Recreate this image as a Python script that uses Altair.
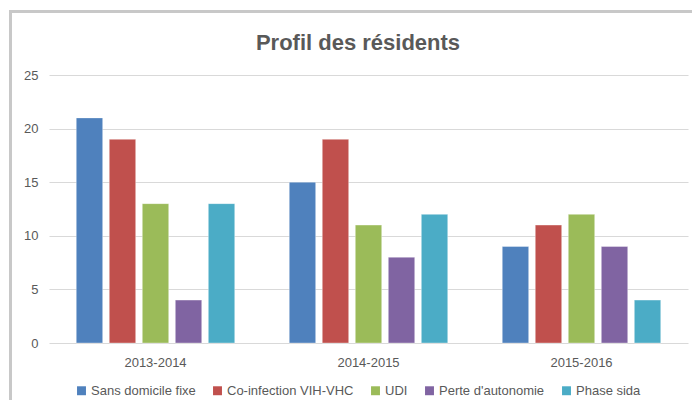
import altair as alt
import pandas as pd

years = ["2013-2014", "2014-2015", "2015-2016"]
categories = ["Sans domicile fixe", "Co-infection VIH-VHC", "UDI", "Perte d'autonomie", "Phase sida"]
colors = ["#4F81BD", "#C0504D", "#9BBB59", "#8064A2", "#4BACC6"]

sans_domicile = [21, 15, 9]
coinfection = [19, 19, 11]
udi = [13, 11, 12]
perte_autonomie = [4, 8, 9]
phase_sida = [13, 12, 4]

series = [sans_domicile, coinfection, udi, perte_autonomie, phase_sida]
rows = []
for cat, vals in zip(categories, series):
    for yr, v in zip(years, vals):
        rows.append({"annee": yr, "cat": cat, "val": v})
df = pd.DataFrame(rows)

FONT = "Liberation Sans"
GRAY = "#595959"

bars = alt.Chart(df).mark_bar(stroke="white", strokeOpacity=0.35, strokeWidth=1).encode(
    x=alt.X("annee:N", sort=years,
            scale=alt.Scale(paddingInner=0.225, paddingOuter=0.1125),
            axis=alt.Axis(title=None, labelAngle=0, ticks=False, domain=False, grid=False,
                          labelPadding=13, labelFontSize=13, labelColor=GRAY, labelFont=FONT)),
    xOffset=alt.XOffset("cat:N", sort=categories,
                        scale=alt.Scale(paddingInner=0.2, paddingOuter=0.1)),
    y=alt.Y("val:Q", scale=alt.Scale(domain=[0, 25]),
            axis=alt.Axis(title=None, values=[0, 5, 10, 15, 20, 25], ticks=False, domain=False,
                          labelPadding=11, labelFontSize=13, labelColor=GRAY, labelFont=FONT,
                          gridColor="#d9d9d9", gridWidth=1)),
    color=alt.Color("cat:N", sort=categories,
                    scale=alt.Scale(domain=categories, range=colors),
                    legend=alt.Legend(title=None, orient="none", direction="horizontal",
                                      legendX=26, legendY=309, symbolType="square",
                                      symbolSize=80, symbolStrokeWidth=0,
                                      labelFontSize=13, labelColor=GRAY, labelFont=FONT,
                                      columnPadding=15, labelOffset=3, padding=0)),
)

frame_df = pd.DataFrame({"a": [0]})
left_border = alt.Chart(frame_df).mark_rule(color="#c8c8c8", strokeWidth=3).encode(
    x=alt.value(-38.5), y=alt.value(-63.5), y2=alt.value(400))
top_border = alt.Chart(frame_df).mark_rule(color="#c8c8c8", strokeWidth=3).encode(
    x=alt.value(-40), x2=alt.value(700), y=alt.value(-63.5))

chart = alt.layer(bars, left_border, top_border).properties(
    width=639, height=268,
    title=alt.TitleParams("Profil des résidents", fontSize=22, font=FONT, fontWeight="bold",
                          color=GRAY, anchor="middle", dx=-10.5, offset=-45),
    autosize=alt.AutoSizeParams(type="none"),
    padding={"left": 41, "top": 67, "right": 4, "bottom": 57},
).configure_view(stroke=None)

chart.save("out.html", embed_options={"renderer": "svg", "actions": False})
